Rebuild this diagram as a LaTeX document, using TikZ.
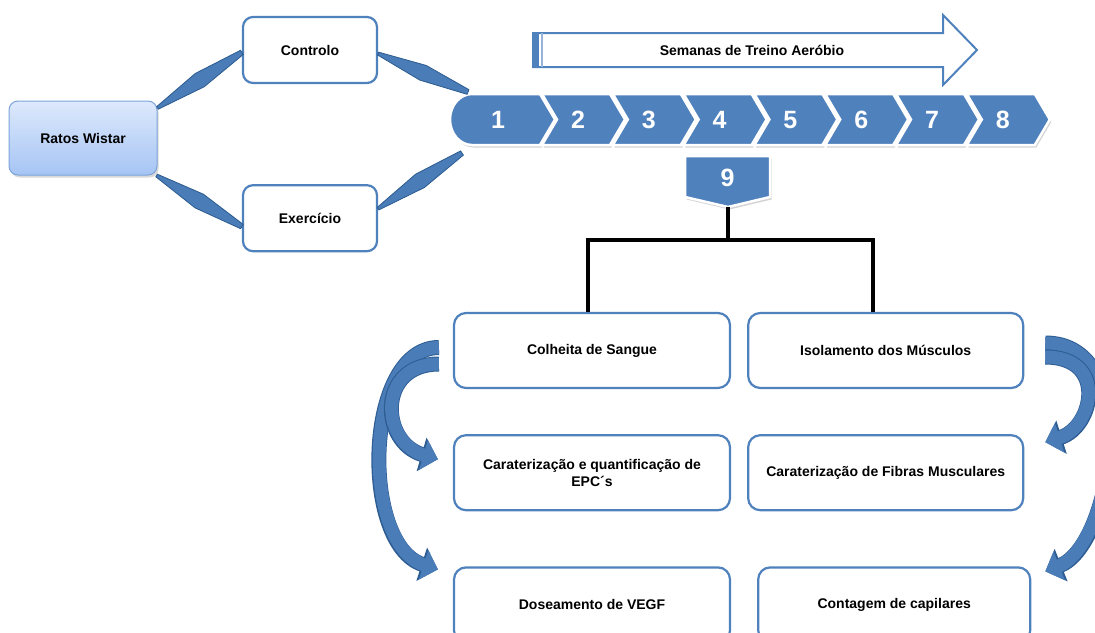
\documentclass[tikz,border=0pt]{standalone}
\usepackage{fontspec}
\setmainfont{Liberation Sans}
\usepackage{tikz}
\usetikzlibrary{positioning, calc, shadows, arrows.meta}
\definecolor{chevblue}{HTML}{4F81BD}
\definecolor{boxblue}{HTML}{4F81BD}
\definecolor{kiteblue}{HTML}{4A7CB8}
\definecolor{kiteedge}{HTML}{2B5A8E}
\definecolor{arrowblue}{HTML}{4A7CB8}
\definecolor{arrowedge}{HTML}{2E5D93}
\definecolor{ratostop}{HTML}{DDE9FC}
\definecolor{ratosbot}{HTML}{A6C4F4}
\definecolor{ratosedge}{HTML}{7DA4DC}
\tikzset{
  box/.style={draw=boxblue, line width=2.2pt, rounded corners=12pt, fill=white,
    minimum width=276pt, minimum height=75pt, align=center,
    font=\fontsize{14}{17}\selectfont\bfseries},
  smallbox/.style={box, minimum width=134pt, minimum height=66pt, rounded corners=10pt},
  ratosbox/.style={draw=ratosedge, line width=1pt, rounded corners=9pt,
    top color=ratostop, bottom color=ratosbot, minimum width=148pt, minimum height=74pt,
    font=\fontsize{14}{17}\selectfont\bfseries,
    drop shadow={opacity=0.3, shadow xshift=1.5pt, shadow yshift=-2.5pt}},
  chevron/.style={fill=chevblue, draw=white, line width=2.5pt, line join=miter,
    drop shadow={opacity=0.35, shadow xshift=1.5pt, shadow yshift=-2.5pt}},
  weeknum/.style={text=white, anchor=base, font=\fontsize{25}{29}\selectfont\bfseries},
  kite/.style={fill=kiteblue, draw=kiteedge, line width=0.8pt},
  bracket/.style={line width=4pt, black},
  bigarrow/.style={draw=arrowblue, line width=13pt, -{Triangle[length=15pt,width=30pt]},
    preaction={draw=arrowedge, line width=15pt, -{Triangle[length=17pt,width=34pt]}}}
}
\newcommand\Kite[2]{%
    \fill[kite] ($(#1)!1.5pt!90:(#2)$) -- ($(#1)!0.5!(#2)!8pt!90:(#2)$)
      -- ($(#2)!2.5pt!-90:(#1)$) -- ($(#2)!2.5pt!90:(#1)$)
      -- ($(#1)!0.5!(#2)!8pt!-90:(#2)$) -- ($(#1)!1.5pt!-90:(#2)$) -- cycle;
    }
\newcommand\Chevron[2]{%
    \draw[chevron] (#1,-94) -- ++(68,0) -- ++(15,-25.5) -- ++(-15,-25.5) -- ++(-68,0) -- ++(15,25.5) -- cycle;
    \node[weeknum] (wk#2) at (#1+36,-128.5) {#2};
    }
\begin{document}
\begin{tikzpicture}[x=1pt, y=1pt]
    \useasboundingbox (0,0) rectangle (1095,-632);
    \clip (0,0) rectangle (1095,-632);

    \node[ratosbox] (ratos) at (83,-138) {Ratos Wistar};
    \node[smallbox] (controlo) at (310,-50) {Controlo};
    \node[smallbox] (exercicio) [below=100pt of controlo] {Exercício};

    \node[box] (colheita) at (592,-350.5) {Colheita de Sangue};
    \node[box] (caract) [below=45pt of colheita] {Caraterização e quantificação de\\EPC´s};
    \node[box] (dosea) [below=55pt of caract] {Doseamento de VEGF};
    \node[box, minimum width=275pt] (isolamento) [right=16pt of colheita] {Isolamento dos Músculos};
    \node[box, minimum width=275pt] (fibras) [below=45pt of isolamento] {Caraterização de Fibras Musculares};
    \node[box, minimum width=272pt] (contagem) [below=55pt of fibras, xshift=8.5pt] {Contagem de capilares};

    % semanas
    \draw[draw=boxblue, line width=2pt, fill=white] (533,-33) -- (943,-33) -- (943,-15) -- (977,-50)
      -- (943,-85) -- (943,-67) -- (533,-67) -- cycle;
    \fill[boxblue] (533,-33) rectangle (539,-67);
    \draw[boxblue!60, line width=1.2pt] (542,-33) -- (542,-67);
    \node[font=\fontsize{14}{17}\selectfont\bfseries] (weeks) at (752,-50) {Semanas de Treino Aeróbio};

    % timeline
    \draw[chevron] (472,-94) coordinate (wk1nw) -- (540,-94) -- (555,-119.5) -- (540,-145)
      -- (472,-145) coordinate (wk1sw) arc[start angle=270, end angle=90, x radius=22, y radius=25.5] -- cycle;
    \node[weeknum] (wk1) at (498,-128.5) {1};
    \Chevron{542}{2}
    \Chevron{612.8}{3}
    \Chevron{683.6}{4}
    \Chevron{754.4}{5}
    \Chevron{825.2}{6}
    \Chevron{896}{7}
    \Chevron{966.8}{8}

    \draw[chevron] (685,-156) -- (770,-156) -- (770,-197) -- (728,-207) coordinate (wk9tip)
      -- (685,-197) -- cycle;
    \node[weeknum] (wk9) at (727.5,-186) {9};

    \coordinate (tltop) at ($(wk1nw)+(-4,2)$);
    \coordinate (tlbot) at ($(wk1sw)+(-10,-8)$);
    \Kite{ratos.22}{controlo.182}
    \Kite{ratos.-27}{exercicio.187}
    \Kite{controlo.357}{tltop}
    \Kite{exercicio.8}{tlbot}

    \coordinate (split) at ($(wk9tip)+(0,-33)$);
    \draw[bracket] (wk9tip) -- (split);
    \draw[bracket] ($(colheita.north)+(-4,0)$) |- (split) -| ($(isolamento.north)+(-12.5,0)$);

    \draw[bigarrow] ($(colheita.west)+(-14,3)$) .. controls +(-75,0) and +(-78,25) .. ($(dosea.west)+(-15,35.5)$);
    \draw[bigarrow] ($(colheita.west)+(-14,-13.5)$) .. controls +(-62,0) and +(-58,17) .. ($(caract.west)+(-15,13.5)$);
    \draw[bigarrow] ($(isolamento.east)+(21,7.5)$) .. controls +(98,0) and +(68,27) .. ($(contagem.east)+(14,33.5)$);
    \draw[bigarrow] ($(isolamento.east)+(21,-6.5)$) .. controls +(63,0) and +(48,15) .. ($(fibras.east)+(21,30.5)$);
\end{tikzpicture}
\end{document}
